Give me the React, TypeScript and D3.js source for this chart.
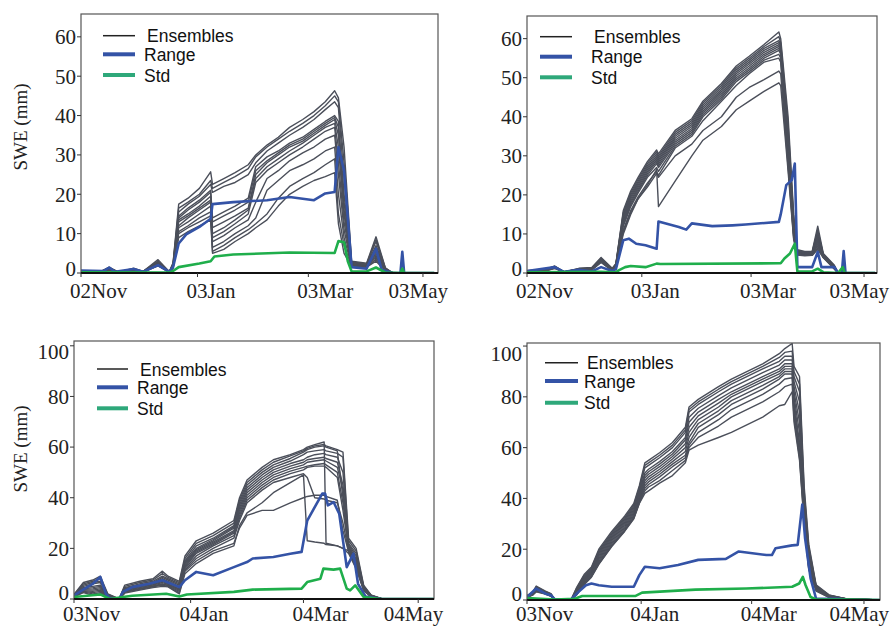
import React from 'react';
import * as d3 from 'd3';

const W = 893;
const H = 627;

const ENS_COLOR = '#4b4f5a';
const RANGE_COLOR = '#3453a6';
const STD_COLOR = '#1fae4b';
const STD_LEGEND = '#2ea87a';

// ---------- panel 1 : 2002/03, site A (days counted from 02 Nov 2002)
const p1EnsDays = [0, 10, 15, 20, 28, 33, 41, 47, 49, 52, 57, 63, 69, 70, 76, 82, 89, 93, 99, 105, 111, 118, 124, 130, 135, 137, 140, 144, 152, 157, 162, 166, 188];
const p1Ensembles = [
  [0.6, 0.3, 1.5, 0.2, 1.2, 0.4, 3.4, 0.3, 2.6, 17.5, 19, 21.5, 25.7, 22.5, 24, 25.5, 27.5, 30, 32.5, 34.5, 37, 39, 41, 43.5, 46.3, 44.5, 32, 3, 2.5, 9.2, 1.3, 0, 0],
  [0.5, 0.3, 1.3, 0.2, 1.1, 0.4, 3, 0.3, 2.4, 16.5, 18, 20, 23.5, 21.5, 23, 24.5, 26.5, 29.5, 32, 34, 36, 38, 40, 42.5, 45, 43.5, 28, 2.8, 2.3, 8.5, 1.2, 0, 0],
  [0.6, 0.3, 1.2, 0.2, 1, 0.4, 2.8, 0.3, 2.2, 15.5, 17.5, 19.5, 22.5, 20.5, 22, 23, 25, 28, 31, 33, 35, 37, 39, 41.5, 43.5, 42, 24, 2.6, 2.2, 8, 1.1, 0, 0],
  [0.5, 0.3, 1.1, 0.2, 0.9, 0.3, 2.6, 0.3, 2, 14.5, 16.5, 18.5, 21, 14, 15.5, 17, 19, 27, 29.5, 31, 33, 34.5, 36.5, 38.5, 40, 38.5, 20, 2.4, 2, 7, 1, 0, 0],
  [0.5, 0.3, 1, 0.2, 0.9, 0.3, 2.5, 0.3, 1.9, 14, 16, 18, 20.5, 13, 14.5, 16, 18, 26, 28.5, 30.5, 32.5, 34, 36, 38, 39.5, 37, 18, 2.3, 1.9, 6.5, 0.9, 0, 0],
  [0.4, 0.2, 1, 0.2, 0.8, 0.3, 2.4, 0.2, 1.8, 13.5, 15, 17, 19.5, 11.5, 13, 14.5, 16.5, 25, 28, 30, 32, 33.5, 35.5, 37.5, 39, 35, 16, 2.2, 1.9, 6, 0.9, 0, 0],
  [0.4, 0.2, 0.9, 0.2, 0.8, 0.3, 2.3, 0.2, 1.7, 13, 14.5, 16.5, 18.5, 10, 11.5, 13.5, 16, 24, 27, 29, 31, 33, 35, 37, 38, 32, 15, 2.1, 1.8, 5.5, 0.8, 0, 0],
  [0.4, 0.2, 0.9, 0.1, 0.7, 0.3, 2.2, 0.2, 1.6, 12, 14, 16, 18, 9, 10.5, 12.5, 15, 23, 26, 28, 30, 32, 34, 36, 37, 28, 13, 2, 1.7, 5, 0.8, 0, 0],
  [0.4, 0.2, 0.8, 0.1, 0.7, 0.2, 2.1, 0.2, 1.5, 11.5, 13, 15, 17, 8, 9.5, 11.5, 13.5, 18, 24, 26, 28.5, 30.5, 32, 34, 35, 25, 11, 1.9, 1.7, 4.5, 0.7, 0, 0],
  [0.3, 0.2, 0.8, 0.1, 0.6, 0.2, 2, 0.2, 1.4, 10.5, 12, 14, 15.5, 6.5, 8, 10, 12, 14, 21, 23.5, 26, 27.5, 29, 31, 32, 20, 9, 1.8, 1.6, 4, 0.7, 0, 0],
  [0.3, 0.2, 0.7, 0.1, 0.6, 0.2, 1.9, 0.2, 1.3, 10, 11.5, 13, 14.5, 5.5, 7, 9, 11, 12.5, 15, 19, 22, 24, 25.5, 27.5, 29, 15, 7, 1.7, 1.5, 3.5, 0.6, 0, 0],
  [0.3, 0.2, 0.7, 0.1, 0.5, 0.2, 1.8, 0.2, 1.2, 9, 10.5, 12, 13.5, 5, 6, 8, 10, 11.5, 13.5, 17, 20, 22, 23.5, 24.5, 25.5, 12.5, 5, 1.6, 1.5, 3, 0.6, 0, 0],
];
const p1RangeDays = [0, 12, 15, 18, 28, 33, 41, 47, 49, 52, 56, 63, 69, 70, 81, 99, 111, 124, 130, 135, 137, 140, 142, 144, 152, 157, 160, 166, 170, 171, 172, 188];
const p1Range = [0.6, 0.5, 1.4, 0.3, 1.0, 0.3, 2.0, 0.3, 1.5, 7.5, 9.8, 11.7, 13.8, 17.5, 18, 18.5, 19.3, 18.5, 20.2, 20.6, 32, 26, 14, 1.5, 1.1, 6.2, 0.8, 0, 0, 5.4, 0, 0];
const p1StdDays = [0, 47, 49, 52, 63, 69, 71, 81, 111, 135, 137, 140, 142, 144, 152, 157, 162, 170, 171, 172, 188];
const p1Std = [0.2, 0.1, 0.5, 1.5, 2.4, 3.0, 4.2, 4.7, 5.2, 5.1, 8.1, 7.8, 3, 0.4, 0.4, 1.4, 0.1, 0, 1.1, 0, 0];

// ---------- panel 2 : 2002/03, site B (days from 02 Nov 2002)
const p2EnsDays = [0, 10, 15, 20, 28, 35, 40, 46, 48, 52, 56, 60, 65, 70, 71, 80, 89, 95, 105, 113, 120, 128, 136, 137, 141, 144, 146, 150, 154, 157, 160, 166, 168, 188];
const p2Ensembles = [
  [0.6, 0.9, 1.8, 0.3, 1.2, 1.4, 4, 1.2, 2.4, 16, 21, 24.5, 28.5, 31.5, 30.5, 36.5, 39.5, 44, 48.5, 53, 55.5, 58.5, 61.7, 60, 40, 15, 6, 5.5, 5.5, 12, 5, 2, 0, 0],
  [0.6, 0.9, 1.7, 0.3, 1.1, 1.3, 3.8, 1.1, 2.3, 15.5, 20.5, 24, 28, 31, 30, 36, 39, 43.5, 48, 52.5, 55, 58, 60.5, 59, 38, 14, 5.8, 5.3, 5.4, 11, 4.8, 1.8, 0, 0],
  [0.5, 0.8, 1.6, 0.3, 1, 1.2, 3.6, 1, 2.2, 15, 20, 23.5, 27.5, 30.5, 29.5, 35.5, 38.5, 43, 47.5, 52, 54.5, 57.5, 59.5, 58.5, 36, 13.5, 5.6, 5.2, 5.3, 10.5, 4.7, 1.7, 0, 0],
  [0.5, 0.8, 1.6, 0.3, 1, 1.2, 3.5, 1, 2.1, 14.5, 19.5, 23, 27, 30, 29, 35, 38, 42.5, 47, 51.5, 54, 57, 59, 58, 35, 13, 5.4, 5.1, 5.2, 10, 4.6, 1.6, 0, 0],
  [0.5, 0.8, 1.5, 0.3, 1, 1.1, 3.4, 0.9, 2, 14, 19, 22.5, 26.5, 29.5, 28.5, 34.5, 37.5, 42, 46.5, 51, 53.5, 56.5, 58.5, 57.5, 34, 12.5, 5.3, 5, 5.1, 9.5, 4.5, 1.5, 0, 0],
  [0.5, 0.7, 1.5, 0.3, 0.9, 1.1, 3.3, 0.9, 2, 13.5, 18.5, 22, 26, 29, 28, 34, 37, 41.5, 46, 50.5, 53, 56, 58, 57, 33, 12, 5.2, 4.9, 5, 9, 4.4, 1.5, 0, 0],
  [0.4, 0.7, 1.4, 0.2, 0.9, 1, 3.2, 0.8, 1.9, 13, 18, 21.5, 25.5, 28.5, 27.5, 33.5, 36.5, 41, 45.5, 50, 52.5, 55.5, 57.5, 56.5, 31, 11.5, 5.1, 4.8, 4.9, 8.5, 4.3, 1.4, 0, 0],
  [0.4, 0.7, 1.4, 0.2, 0.9, 1, 3.1, 0.8, 1.8, 12.5, 17.5, 21, 25, 28, 27, 33, 36, 40.5, 45, 49.5, 52, 55, 57, 56, 30, 11, 5, 4.7, 4.8, 8, 4.2, 1.3, 0, 0],
  [0.4, 0.6, 1.3, 0.2, 0.8, 0.9, 3, 0.7, 1.7, 12, 17, 20.5, 24.5, 27, 26, 32.5, 35.5, 40, 44.5, 49, 51.5, 54.5, 56, 55, 29, 10, 4.9, 4.6, 4.7, 7.5, 4.1, 1.2, 0, 0],
  [0.4, 0.6, 1.3, 0.2, 0.8, 0.9, 2.9, 0.7, 1.6, 11, 16, 19.5, 23, 26, 25, 32, 35, 39, 44, 48, 51, 54, 55, 54, 28, 9.5, 4.8, 4.5, 4.6, 7, 4, 1.1, 0, 0],
  [0.3, 0.6, 1.2, 0.2, 0.7, 0.8, 2.8, 0.6, 1.5, 10.5, 15.5, 19, 22, 25.5, 24.5, 30, 33, 36.5, 40, 45, 47.5, 49.5, 51.7, 51, 27, 9, 4.7, 4.5, 4.5, 6.5, 4, 1, 0, 0],
  [0.3, 0.5, 1.2, 0.2, 0.7, 0.8, 2.7, 0.6, 1.4, 10, 15, 19, 22.5, 26.5, 17, 23.5, 30, 34, 37.5, 41.8, 44, 46.5, 48.7, 48, 26, 8.5, 4.6, 4.4, 4.5, 6, 3.9, 1, 0, 0],
];
const p2RangeDays = [0, 15, 20, 28, 35, 40, 46, 48, 52, 55, 59, 64, 70, 71, 82, 86, 89, 100, 111, 118, 136, 137, 140, 143, 144.6, 146, 154, 157, 159, 166, 168, 170, 171, 172, 188];
const p2Range = [0.5, 1.5, 0.3, 0.8, 0.4, 1.5, 0.5, 1.0, 8.4, 8.8, 7.5, 7.1, 6.2, 13.2, 11.8, 11.1, 12.7, 12, 12.2, 12.4, 13.1, 15, 22.5, 23.8, 28, 1.5, 1.5, 5.4, 1.5, 1.5, 0, 0, 5.6, 0, 0];
const p2StdDays = [0, 40, 48, 50, 53, 56, 64, 70, 72, 137, 139, 142, 144.6, 146, 154, 157, 160, 168, 170.5, 171.5, 188];
const p2Std = [0.2, 0.3, 0.2, 0.8, 1.5, 1.8, 1.5, 2.4, 2.3, 2.5, 3.7, 5, 7.5, 0.4, 0.4, 1.1, 0.2, 0, 1.5, 0, 0];

// ---------- panel 3 : 2003/04, site A (days from 03 Nov 2003)
const p3EnsDays = [0, 5, 10, 14, 18, 24, 27, 35, 42, 47, 50, 56, 59, 65, 74, 85, 88, 92, 100, 106, 115, 122, 124, 128, 133, 134, 140, 143, 146, 150, 154, 158, 164, 192];
const p3Ensembles = [
  [1.8, 6.5, 7.5, 9, 2, 0, 5.5, 7, 8, 11, 9, 7, 17, 23, 26, 31, 40, 47, 52, 55, 57, 59, 60, 61, 62, 22, 21, 20, 19, 15, 5, 1.5, 0, 0],
  [1.6, 6, 7, 8, 1.8, 0, 5, 6.5, 7.5, 10, 8.5, 6.5, 16, 22, 25, 30, 39, 46, 51, 54, 56.5, 58.5, 59.5, 60.5, 61, 60.5, 59, 58, 24, 20, 5.5, 1.5, 0, 0],
  [1.5, 5.5, 6.5, 7, 1.5, 0, 4.5, 6, 7, 9, 8, 6, 15, 21, 24, 29, 38, 45, 50, 53, 55.5, 58, 59, 60, 60.5, 60, 58.5, 40, 23, 19, 5, 1.4, 0, 0],
  [1.4, 5, 6, 6.5, 1.3, 0, 4.2, 5.5, 6.5, 8.5, 7.5, 5.5, 14.5, 20, 23.5, 28.5, 37, 44, 49, 52, 54.5, 57, 58, 58.5, 59, 58.5, 57.5, 56, 22, 18, 4.8, 1.3, 0, 0],
  [1.3, 4.5, 5, 5.5, 1.1, 0, 4, 5.2, 6.2, 8, 7, 5, 14, 19.5, 23, 28, 36, 43, 48, 51, 53.5, 55, 56, 57, 57.5, 57, 56, 50, 21.5, 17, 4.5, 1.2, 0, 0],
  [1.2, 4, 4.5, 5, 1, 0, 3.7, 5, 6, 7.5, 6.5, 4.5, 13.5, 19, 22.5, 27, 35, 42, 47, 50, 52.5, 54, 55, 55.5, 56, 55.5, 54, 45, 21, 16, 4.3, 1.1, 0, 0],
  [1.1, 3.8, 4, 4.5, 0.9, 0, 3.5, 4.8, 5.7, 7, 6, 4, 13, 18.5, 22, 26.5, 34, 41, 46, 49, 51.5, 53, 54, 54.5, 55, 54.5, 52, 43, 20.5, 15.5, 4.1, 1, 0, 0],
  [1, 3.5, 3.5, 4, 0.8, 0, 3.3, 4.5, 5.5, 6.5, 5.8, 3.8, 12.5, 18, 21.5, 26, 33, 40, 45, 48, 50.5, 52, 52.5, 53, 53.5, 53, 50, 38, 20, 15, 4, 1, 0, 0],
  [1, 3.2, 3, 3.5, 0.7, 0, 3, 4.2, 5.2, 6, 5.5, 3.5, 12, 17, 21, 25, 32, 39, 44, 47, 49.5, 51, 52, 52.5, 52.5, 52, 48, 35, 19.5, 14, 3.8, 0.9, 0, 0],
  [0.9, 3, 2.5, 3, 0.6, 0, 2.8, 4, 5, 5.8, 5.3, 3, 11.5, 16, 20, 24, 31, 38, 43, 46, 48, 49.5, 48, 40, 39.5, 39, 38, 30, 19, 13, 3.6, 0.9, 0, 0],
  [0.9, 2.8, 2, 2.5, 0.5, 0, 2.6, 3.8, 4.8, 5.5, 5, 2.5, 11, 15, 19, 22, 28, 33, 35, 35, 38, 40, 40.5, 41, 41, 40.5, 39, 27, 18.5, 12.5, 3.5, 0.8, 0, 0],
  [0.8, 2.5, 1.5, 2, 0.4, 0, 2.3, 3.5, 4.5, 5, 4.8, 2, 10, 14, 18, 21, 29, 34, 38, 42, 46, 49, 23, 22.5, 22, 21.5, 21, 20, 18, 12, 3.3, 0.8, 0, 0],
];
const p3RangeDays = [0, 7, 10, 14, 17, 19, 24, 26, 31, 40, 47, 56, 59, 65, 74, 85, 92, 95, 106, 115, 121, 124, 132, 133.5, 135, 138, 141, 145, 148.6, 151, 155, 163, 192];
const p3Range = [1.4, 4.7, 6, 8.7, 2, 0.3, 0, 2.8, 4.7, 6, 7.4, 4.7, 7.4, 10.7, 9.4, 12.6, 14.6, 16, 16.6, 17.9, 18.6, 31, 41.6, 41.6, 37, 38.3, 33.7, 12.6, 17.9, 6, 1, 0, 0];
const p3StdDays = [0, 14, 19, 26, 31, 49, 56, 60, 85, 95, 121, 124, 131, 132.6, 138, 141.5, 145, 146.8, 149.5, 154, 163, 192];
const p3Std = [0.8, 1.8, 0, 0.8, 1.3, 2.1, 1.0, 1.8, 2.8, 3.7, 4.1, 6.7, 8, 12, 11.6, 12, 4.1, 3.4, 5.4, 0.8, 0, 0];

// ---------- panel 4 : 2003/04, site B (days from 03 Nov 2003)
const p4EnsDays = [0, 3, 5, 10, 13, 15, 24, 27, 31, 35, 39, 46, 53, 58, 61, 64, 66, 72, 79, 86, 88, 93, 104, 111, 128, 137, 140, 144, 145, 148, 150.5, 153, 157, 164, 173, 194];
const p4Ensembles = [
  [1.8, 3, 5.5, 3.5, 2.5, 0.2, 0.2, 5, 10, 13, 20, 27, 33, 38, 45, 54, 55, 58, 62, 68, 76, 79, 84, 87, 93, 97, 99, 101, 92, 88, 45, 22, 6, 2, 0.5, 0],
  [1.7, 2.8, 5.2, 3.3, 2.4, 0.2, 0.2, 4.7, 9.6, 12.6, 19.4, 26.4, 32.4, 37.4, 44.2, 53, 54, 57, 61, 67, 75, 78, 83, 86, 92, 95.5, 97.5, 98, 90, 85, 43, 21, 5.7, 1.9, 0.5, 0],
  [1.6, 2.7, 5, 3.2, 2.3, 0.2, 0.2, 4.4, 9.2, 12.2, 18.8, 25.8, 31.8, 36.8, 43.4, 52, 53, 56, 60, 66, 74, 77, 82, 85, 91, 94, 96, 96, 88, 82, 41, 20, 5.4, 1.8, 0.5, 0],
  [1.6, 2.6, 4.8, 3.1, 2.2, 0.2, 0.2, 4.1, 8.8, 11.8, 18.2, 25.2, 31.2, 36.2, 42.6, 50, 51.5, 54.5, 58.5, 64, 72, 75.5, 80.5, 83.5, 89.5, 92.5, 94.5, 94.5, 86, 78, 39, 19, 5.2, 1.7, 0.5, 0],
  [1.5, 2.5, 4.6, 3, 2.1, 0.2, 0.2, 3.8, 8.4, 11.4, 17.6, 24.6, 30.6, 35.6, 41.8, 49, 50.5, 53.5, 57.5, 63, 70, 74, 79, 82, 88, 91, 93, 93, 84, 74, 37, 18, 5, 1.6, 0.5, 0],
  [1.5, 2.4, 4.4, 2.9, 2, 0.2, 0.2, 3.5, 8, 11, 17, 24, 30, 35, 41, 48, 49.5, 52.5, 56.5, 61.5, 68, 72.5, 77.5, 81, 87, 90, 92, 92, 82, 70, 36, 17, 4.8, 1.5, 0.4, 0],
  [1.4, 2.3, 4.2, 2.8, 1.9, 0.2, 0.2, 3.2, 7.6, 10.6, 16.4, 23.4, 29.4, 34.4, 40.2, 47, 48.5, 51.5, 55.5, 60, 66, 71, 76, 80, 86, 89, 91, 91, 80, 66, 35, 16, 4.6, 1.4, 0.4, 0],
  [1.3, 2.2, 4, 2.7, 1.8, 0.2, 0.2, 3, 7.2, 10.2, 15.8, 22.8, 28.8, 33.8, 39.6, 46, 47.5, 50.5, 54.5, 58.5, 64, 69.5, 74.5, 78.5, 84.5, 88, 90, 90, 78, 62, 34, 15, 4.4, 1.3, 0.4, 0],
  [1.2, 2.1, 3.8, 2.6, 1.7, 0.2, 0.2, 2.8, 6.8, 9.8, 15.2, 22.2, 28.2, 33.2, 39, 45, 46.5, 49.5, 53.5, 57, 62, 68, 73, 77, 83, 87, 89, 89, 76, 60, 33, 14, 4.2, 1.2, 0.4, 0],
  [1.1, 2, 3.6, 2.5, 1.6, 0.2, 0.2, 2.5, 6.4, 9.4, 14.6, 21.6, 27.6, 32.6, 38.5, 44, 45.5, 48.5, 52.5, 56, 61, 66, 71, 75, 81, 85, 87, 87.5, 74, 58, 32, 13, 4, 1.1, 0.4, 0],
  [1, 2, 3.4, 2.4, 1.5, 0.2, 0.2, 2.2, 6.2, 9.2, 14.2, 21.2, 27.2, 32.2, 38.2, 43, 44.5, 47, 51, 55, 60, 64, 68.5, 72, 78, 82, 84, 85, 72, 56, 31, 12.5, 3.8, 1, 0.3, 0],
  [1, 1.9, 3.2, 2.3, 1.4, 0.2, 0.2, 2, 6, 9, 14, 21, 27, 32, 38, 42, 43, 46, 49, 54, 59, 61, 64, 66, 72, 76.5, 77, 82, 70, 55, 30, 12, 3.5, 1, 0.3, 0],
];
const p4RangeDays = [0, 5, 10, 13, 15, 24, 28, 32, 35, 39, 46, 58, 61, 64, 72, 82, 93, 108, 115, 130, 133, 135, 144, 147, 149.5, 151, 154, 157, 169, 175, 194];
const p4Range = [1.2, 4.5, 2.5, 1.9, 0.3, 0.3, 3.2, 5.8, 6.5, 5.8, 5.2, 5.2, 9.8, 13.1, 12.5, 13.8, 15.8, 16.2, 19.1, 17.7, 17.7, 20.4, 21.5, 21.7, 37.6, 24.4, 8.5, 0.5, 0.5, 0, 0];
const p4StdDays = [0, 15, 26, 30, 59, 62.5, 91.5, 119, 144, 147.8, 149.8, 151.3, 154, 156.7, 173, 194];
const p4Std = [0.8, 0.2, 0.5, 1.6, 1.6, 2.9, 4.1, 4.5, 5.2, 6.5, 9.1, 5.8, 1.2, 0.3, 0.2, 0];

// ---------- axes
const ticks0203 = ['2002-11-02', '2003-01-03', '2003-03-03', '2003-05-03'];
const labels0203 = ['02Nov', '03Jan', '03Mar', '03May'];
const ticks0304 = ['2003-11-03', '2004-01-04', '2004-03-04', '2004-05-04'];
const labels0304 = ['03Nov', '04Jan', '04Mar', '04May'];
const yTicksTop = [0, 10, 20, 30, 40, 50, 60];
const yTicksBottom = [0, 20, 40, 60, 80, 100];
const legendNames = ['Ensembles', 'Range', 'Std'];

const parse = d3.timeParse('%Y-%m-%d');
const addDays = (s: Date, d: number) => new Date(s.getTime() + d * 86400000);

interface PanelCfg {
  id: string;
  start: string;
  span: number;
  box: [number, number, number, number];
  yMax: number;
  yTicks: number[];
  ticks: string[];
  labels: string[];
  ensDays: number[];
  ens: number[][];
  rangeDays: number[];
  range: number[];
  stdDays: number[];
  std: number[];
  legend: { x1: number; x2: number; tx: number; ys: number[] };
  yTitle?: number;
  edgePad: number;
  xLabelDy: number;
}

const panels: PanelCfg[] = [
  {
    id: 'p1', start: '2002-11-02', span: 190, box: [81, 438, 14, 273], yMax: 65.8, yTicks: yTicksTop,
    ticks: ticks0203, labels: labels0203, ensDays: p1EnsDays, ens: p1Ensembles,
    rangeDays: p1RangeDays, range: p1Range, stdDays: p1StdDays, std: p1Std,
    legend: { x1: 103, x2: 135, tx: 144, ys: [35.7, 54.3, 75] }, yTitle: 127, edgePad: 4, xLabelDy: 25,
  },
  {
    id: 'p2', start: '2002-11-02', span: 189, box: [527, 877, 16, 273], yMax: 65.8, yTicks: yTicksTop,
    ticks: ticks0203, labels: labels0203, ensDays: p2EnsDays, ens: p2Ensembles,
    rangeDays: p2RangeDays, range: p2Range, stdDays: p2StdDays, std: p2Std,
    legend: { x1: 540, x2: 572, tx: 591, ys: [36.7, 56.7, 77.3] }, edgePad: 4, xLabelDy: 25,
  },
  {
    id: 'p3', start: '2003-11-03', span: 191.4, box: [74, 434, 341, 599], yMax: 101.9, yTicks: yTicksBottom,
    ticks: ticks0304, labels: labels0304, ensDays: p3EnsDays, ens: p3Ensembles,
    rangeDays: p3RangeDays, range: p3Range, stdDays: p3StdDays, std: p3Std,
    legend: { x1: 97, x2: 128, tx: 137, ys: [369, 387.3, 408.3] }, yTitle: 449, edgePad: 6.5, xLabelDy: 22,
  },
  {
    id: 'p4', start: '2003-11-03', span: 191.7, box: [527, 880, 343, 600], yMax: 101.2, yTicks: yTicksBottom,
    ticks: ticks0304, labels: labels0304, ensDays: p4EnsDays, ens: p4Ensembles,
    rangeDays: p4RangeDays, range: p4Range, stdDays: p4StdDays, std: p4Std,
    legend: { x1: 545, x2: 578, tx: 584, ys: [362.7, 381, 402.7] }, edgePad: 6.5, xLabelDy: 21,
  },
];

const serif = "'Liberation Serif', 'Times New Roman', serif";
const sans = "'Liberation Sans', Arial, sans-serif";

function Panel({ cfg }: { cfg: PanelCfg }) {
  const [l, r, t, b] = cfg.box;
  const start = parse(cfg.start)!;
  const x = d3.scaleTime().domain([start, addDays(start, cfg.span)]).range([l, r]);
  const y = d3.scaleLinear().domain([0, cfg.yMax]).range([b, t]);
  const path = (days: number[], vals: number[]) =>
    d3.line<number>()
      .x((_, i) => x(addDays(start, days[i])))
      .y((v) => y(v))(vals) || '';
  const lg = cfg.legend;

  return (
    <g>
      <defs>
        <clipPath id={`clip-${cfg.id}`}>
          <rect x={l} y={t} width={r - l} height={b - t} />
        </clipPath>
      </defs>
      <g clipPath={`url(#clip-${cfg.id})`} fill="none" strokeLinejoin="round">
        {cfg.ens.map((m, i) => (
          <path key={i} d={path(cfg.ensDays, m)} stroke={ENS_COLOR} strokeWidth={1.4} />
        ))}
        <path d={path(cfg.rangeDays, cfg.range)} stroke={RANGE_COLOR} strokeWidth={2.6} />
        <path d={path(cfg.stdDays, cfg.std)} stroke={STD_COLOR} strokeWidth={2.6} />
      </g>
      <rect x={l} y={t} width={r - l} height={b - t} fill="none" stroke="#555" strokeWidth={1.2} />
      <line x1={l} x2={r} y1={b} y2={b} stroke="#111" strokeWidth={2} />

      {cfg.yTicks.map((v) => {
        const yy = y(v);
        const ly = Math.max(t + 11, Math.min(b - cfg.edgePad, yy));
        return (
          <g key={v}>
            <line x1={l - 4} x2={l} y1={yy} y2={yy} stroke="#333" strokeWidth={1} />
            <text x={l - 5} y={ly} dy="0.35em" textAnchor="end" fontFamily={serif} fontSize={21} fill="#222">
              {v}
            </text>
          </g>
        );
      })}

      {cfg.ticks.map((d, i) => {
        const xx = x(parse(d)!);
        const last = i === cfg.ticks.length - 1;
        return (
          <g key={d}>
            <line x1={xx} x2={xx} y1={b} y2={b + 4} stroke="#333" strokeWidth={1} />
            <text
              x={last ? xx + 25 : xx - 11}
              y={b + cfg.xLabelDy}
              textAnchor={last ? 'end' : 'start'}
              fontFamily={serif}
              fontSize={21}
              fill="#222"
            >
              {cfg.labels[i]}
            </text>
          </g>
        );
      })}

      {cfg.yTitle !== undefined && (
        <text
          transform={`translate(20,${cfg.yTitle}) rotate(-90)`}
          textAnchor="middle"
          dy="0.35em"
          fontFamily={serif}
          fontSize={19}
          fill="#222"
        >
          SWE (mm)
        </text>
      )}

      {legendNames.map((name, i) => (
        <g key={name}>
          <line
            x1={lg.x1}
            x2={lg.x2}
            y1={lg.ys[i]}
            y2={lg.ys[i]}
            stroke={i === 0 ? '#222' : i === 1 ? RANGE_COLOR : STD_LEGEND}
            strokeWidth={i === 0 ? 1.5 : 4}
          />
          <text x={lg.tx + (i === 0 ? 3 : 0)} y={lg.ys[i] + 6.5} fontFamily={sans} fontSize={17.5} fill="#111">
            {name}
          </text>
        </g>
      ))}
    </g>
  );
}

export default function App() {
  return (
    <svg
      width={W}
      height={H}
      viewBox={`0 0 ${W} ${H}`}
      style={{ position: 'absolute', left: 0, top: 0, background: '#fff', display: 'block' }}
    >
      <rect width={W} height={H} fill="#fff" />
      {panels.map((p) => (
        <Panel key={p.id} cfg={p} />
      ))}
    </svg>
  );
}
